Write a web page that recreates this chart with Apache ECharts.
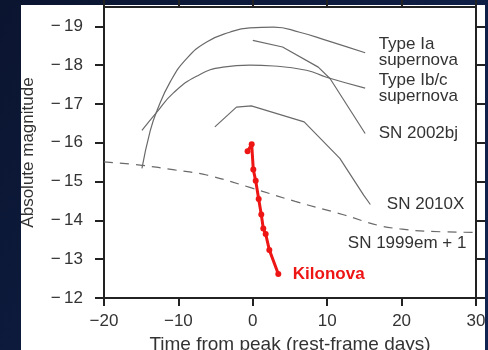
<!DOCTYPE html>
<html>
<head>
<meta charset="utf-8">
<script src="https://cdn.jsdelivr.net/npm/echarts@6/dist/echarts.min.js"></script>
<style>
  html, body { margin: 0; padding: 0; background: #0c1733; }
  #chart { width: 488px; height: 350px; }
</style>
</head>
<body>
<div id="chart"></div>
<script>
// Light curves: [days from peak, absolute magnitude]
const typeIa = [[-14.9,-15.34],[-13.8,-16.3],[-12.9,-16.82],[-11.1,-17.57],[-8.9,-18.17],[-6.2,-18.6],[-3.1,-18.85],[-0.4,-18.96],[2.8,-18.98],[6.3,-18.85],[9.9,-18.64],[15.1,-18.32]];
const typeIbc = [[-14.9,-16.32],[-12.9,-16.79],[-10.7,-17.28],[-7.5,-17.72],[-4.0,-17.95],[-0.4,-18.0],[2.8,-17.98],[7.2,-17.87],[9.9,-17.69],[15.1,-17.41]];
const sn2002bj = [[0,-18.64],[4.0,-18.47],[8.8,-17.95],[10.4,-17.65],[15.1,-16.24]];
const sn2010X = [[-5.1,-16.41],[-2.2,-16.92],[-0.2,-16.95],[6.9,-16.54],[11.7,-15.6],[14.9,-14.65],[15.8,-14.41]];
const sn1999em = [[-20,-15.51],[-14.9,-15.42],[-10.5,-15.3],[-6.2,-15.17],[-0.4,-14.85],[5.7,-14.49],[12.3,-14.14],[16.7,-13.88],[19.8,-13.78],[23.4,-13.72],[30,-13.69]];
const kilonova = [[-0.7,-15.78],[-0.15,-15.96],[0.07,-15.31],[0.39,-15.02],[0.79,-14.55],[1.14,-14.15],[1.41,-13.79],[1.73,-13.65],[2.22,-13.24],[3.43,-12.62]];

const xTicks = [-20, -10, 0, 10, 20, 30];
const yTicks = [-19, -18, -17, -16, -15, -14, -13, -12];

const FONT = 'Liberation Sans, Arial, sans-serif';
const INK = '#222';
const TEXT = '#333';
const GREY = '#6a6a6a';
const RED = '#ee1515';

const minusFmt = (v, sep) => (v < 0 ? '\u2212' + sep : '') + Math.abs(v);
const last = arr => arr[arr.length - 1];

// invisible anchor carrying a text label at a data point
function tagAt(coord, text, label) {
  return {
    symbol: 'circle',
    symbolSize: 1,
    silent: true,
    animation: false,
    itemStyle: { color: 'rgba(0,0,0,0)' },
    data: [{
      coord: coord,
      label: Object.assign({
        show: true,
        formatter: text,
        position: 'right',
        fontFamily: FONT,
        fontSize: 17,
        lineHeight: 16,
        color: TEXT
      }, label || {})
    }]
  };
}

function greyLine(name, data, opts) {
  return Object.assign({
    name: name,
    type: 'line',
    data: data,
    showSymbol: false,
    symbol: 'none',
    lineStyle: { color: GREY, width: 1.2 },
    z: 3
  }, opts);
}

const frameAxis = {
  axisLine: { show: true, onZero: false, lineStyle: { color: INK, width: 2 } },
  splitLine: { show: false }
};

const chart = echarts.init(document.getElementById('chart'), null, { renderer: 'canvas' });

chart.setOption({
  animation: false,
  backgroundColor: {
    type: 'linear', x: 0, y: 0, x2: 1, y2: 1,
    colorStops: [{ offset: 0, color: '#0b1530' }, { offset: 1, color: '#112350' }]
  },
  graphic: [{
    type: 'rect',
    z: -10,
    silent: true,
    shape: { x: 21, y: 5, width: 464, height: 350 },
    style: { fill: '#ffffff' }
  }],
  grid: { left: 104, right: 12, top: 7, bottom: 52, outerBoundsMode: 'none', containLabel: false },
  xAxis: [
    Object.assign({
      type: 'value', min: -20, max: 30, interval: 10, position: 'bottom',
      axisTick: { show: true, inside: false, length: 8, lineStyle: { color: INK, width: 2 } },
      axisLabel: {
        fontFamily: FONT, fontSize: 17, color: TEXT, margin: 15,
        formatter: v => minusFmt(v, '')
      },
      name: 'Time from peak (rest-frame days)',
      nameLocation: 'middle',
      nameGap: 28,
      nameTextStyle: { fontFamily: FONT, fontSize: 19, color: TEXT }
    }, frameAxis),
    Object.assign({
      type: 'value', min: -20, max: 30, interval: 10, position: 'top',
      axisTick: { show: true, inside: false, length: 7, lineStyle: { color: INK, width: 2 } },
      axisLabel: { show: false }
    }, frameAxis)
  ],
  yAxis: [
    Object.assign({
      type: 'value', min: -19.5, max: -12, inverse: true, position: 'left',
      axisTick: { show: true, inside: false, length: 9, customValues: yTicks, lineStyle: { color: INK, width: 2 } },
      axisLabel: {
        fontFamily: FONT, fontSize: 17, color: TEXT, margin: 21,
        customValues: yTicks,
        formatter: v => minusFmt(v, '\u2009')
      },
      name: 'Absolute magnitude',
      nameLocation: 'middle',
      nameGap: 67,
      nameTextStyle: { fontFamily: FONT, fontSize: 17, color: TEXT }
    }, frameAxis),
    Object.assign({
      type: 'value', min: -19.5, max: -12, inverse: true, position: 'right',
      axisTick: { show: true, inside: false, length: 9, customValues: yTicks, lineStyle: { color: INK, width: 2 } },
      axisLabel: { show: false }
    }, frameAxis)
  ],
  series: [
    greyLine('Type Ia supernova', typeIa, {
      smooth: 0.5,
      markPoint: tagAt(last(typeIa), 'Type Ia\nsupernova', { distance: 13 })
    }),
    greyLine('Type Ib/c supernova', typeIbc, {
      smooth: 0.5,
      markPoint: tagAt(last(typeIbc), 'Type Ib/c\nsupernova', { distance: 13 })
    }),
    greyLine('SN 2002bj', sn2002bj, {
      markPoint: tagAt(last(sn2002bj), 'SN 2002bj', { distance: 13 })
    }),
    greyLine('SN 2010X', sn2010X, {
      markPoint: tagAt(last(sn2010X), 'SN 2010X', { distance: 16, offset: [0, 0] })
    }),
    greyLine('SN 1999em + 1', sn1999em, {
      smooth: 0.4,
      lineStyle: { color: GREY, width: 1.2, type: [9, 7] },
      markPoint: tagAt(sn1999em[8], 'SN 1999em + 1', { position: 'bottom', distance: 5, offset: [7, 1] })
    }),
    {
      name: 'Kilonova',
      type: 'line',
      data: kilonova,
      symbol: 'circle',
      symbolSize: 6,
      showSymbol: true,
      itemStyle: { color: RED },
      lineStyle: { color: RED, width: 3 },
      z: 5,
      markPoint: tagAt(last(kilonova), 'Kilonova', {
        distance: 14, fontWeight: 'bold', color: RED
      })
    }
  ]
});
</script>
</body>
</html>
